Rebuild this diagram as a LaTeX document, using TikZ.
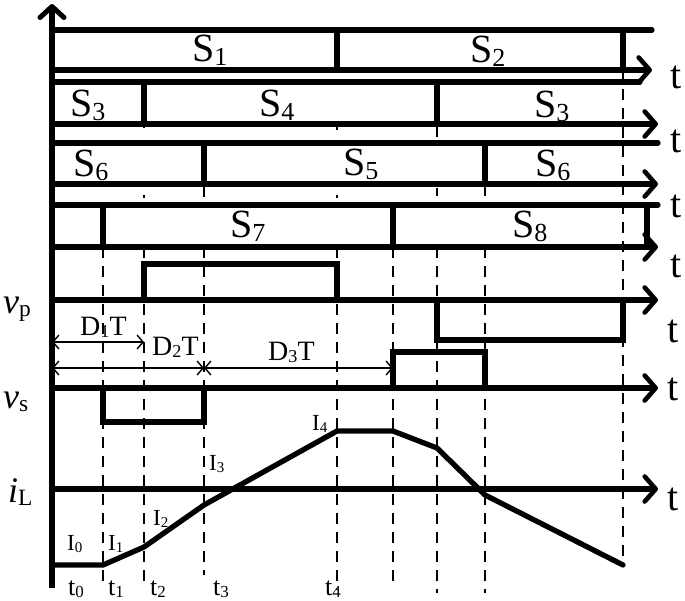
\documentclass[tikz,border=0pt]{standalone}
\usepackage{fontspec}
\setmainfont{Liberation Serif}
\usetikzlibrary{arrows.meta}
\newcommand{\lsub}[1]{\raisebox{-0.1em}{\scalebox{0.65}{#1}}}
\tikzset{
  bigtip/.tip={Straight Barb[length=11pt,width=25pt,line width=4.6pt,round]},
  smalltip/.tip={Straight Barb[length=6pt,width=14pt,line width=1.4pt]},
  sig/.style={line width=5.3pt,line cap=round},
  axisline/.style={line width=5.3pt,-bigtip},
  guide/.style={line width=1.9pt,dash pattern=on 11pt off 8pt},
  tickmark/.style={line width=1.9pt},
  dimline/.style={line width=1.5pt,smalltip-smalltip},
  slab/.style={inner sep=0pt,anchor=base west,font=\fontsize{40}{40}\selectfont},
  tlab/.style={inner sep=0pt,anchor=base west,font=\fontsize{40}{40}\selectfont},
  vlab/.style={inner sep=0pt,anchor=base west,font=\fontsize{36}{36}\selectfont},
  dlab/.style={inner sep=0pt,anchor=base west,font=\fontsize{28}{28}\selectfont},
  ilab/.style={inner sep=0pt,anchor=base west,font=\fontsize{23}{23}\selectfont},
  tilab/.style={inner sep=0pt,anchor=base west,font=\fontsize{26}{26}\selectfont},
}
\begin{document}
\begin{tikzpicture}[x=1pt,y=-1pt]
\useasboundingbox (0,0) rectangle (685,600);

% dashed guide lines
\draw[guide] (103,247) -- (103,588);
\draw[guide] (144,247) -- (144,588);
\draw[guide] (204,247) -- (204,575);
\draw[guide] (337,247) -- (337,590);
\draw[guide] (393,247) -- (393,588);
\draw[guide] (437,247) -- (437,593);
\draw[guide] (485,247) -- (485,593);
\draw[guide] (623,70) -- (623,557);
% short ticks between rows
\draw[tickmark] (144,124) -- (144,128);
\draw[tickmark] (337,124) -- (337,130);
\draw[tickmark] (437,124) -- (437,137);
\draw[tickmark] (144,195) -- (144,198);
\draw[tickmark] (204,184) -- (204,197);
\draw[tickmark] (337,195) -- (337,198);
\draw[tickmark] (437,188) -- (437,196);
\draw[tickmark] (485,184) -- (485,196);

% vertical axis
\draw[line width=6pt,-{Straight Barb[length=11pt,width=24pt,line width=5pt,round]}] (52,588) -- (52,4);

% row 1: S1 / S2
\draw[sig] (52,30) -- (652,30);
\draw[axisline] (52,70) -- (652,70);
\draw[sig] (337,30) -- (337,70);
\draw[sig] (623,30) -- (623,70);
\node[slab] (s1) at (192,61) {S\lsub{1}};
\node[slab] (s2) at (470,62) {S\lsub{2}};
\node[tlab] (ta) at (670,88) {t};

% row 2: S3 / S4 / S3
\draw[sig] (52,82) -- (640,82);
\draw[axisline] (52,124) -- (658,124);
\draw[sig] (144,82) -- (144,124);
\draw[sig] (437,82) -- (437,124);
\node[slab] (s3a) at (70,116) {S\lsub{3}};
\node[slab] (s4) at (259,116) {S\lsub{4}};
\node[slab] (s3b) at (534,117) {S\lsub{3}};
\node[tlab] (tb) at (670,152) {t};

% row 3: S6 / S5 / S6
\draw[sig] (52,143) -- (658,143);
\draw[axisline] (52,184) -- (658,184);
\draw[sig] (204,143) -- (204,184);
\draw[sig] (485,143) -- (485,184);
\node[slab] (s6a) at (73,176) {S\lsub{6}};
\node[slab] (s5) at (343,175) {S\lsub{5}};
\node[slab] (s6b) at (535,176) {S\lsub{6}};
\node[tlab] (tc) at (670,217) {t};

% row 4: S7 / S8
\draw[sig] (52,205) -- (658,205);
\draw[axisline] (52,247) -- (658,247);
\draw[sig] (103,205) -- (103,247);
\draw[sig] (393,205) -- (393,247);
\draw[sig] (647,205) -- (647,247);
\node[slab] (s7) at (230,237) {S\lsub{7}};
\node[slab] (s8) at (512,237) {S\lsub{8}};
\node[tlab] (td) at (670,277) {t};

% vp
\draw[axisline] (52,300) -- (658,300);
\draw[sig] (52,300) -- (144,300) -- (144,264) -- (337,264) -- (337,300)
  -- (437,300) -- (437,340) -- (623,340) -- (623,300);
\node[vlab] (vp) at (3,313) {\textit{v}\lsub{p}};
\node[tlab] (te) at (667,342) {t};

% dimension arrows
\draw[dimline] (52,342) -- (144,342);
\draw[dimline] (52,368) -- (204,368);
\draw[dimline] (204,368) -- (393,368);
\node[dlab] (d1) at (80,335) {D\lsub{1}T};
\node[dlab] (d2) at (152,355) {D\lsub{2}T};
\node[dlab] (d3) at (268,360) {D\lsub{3}T};

% vs
\draw[axisline] (52,388) -- (658,388);
\draw[sig] (103,388) -- (103,422) -- (204,422) -- (204,388);
\draw[sig] (393,388) -- (393,352) -- (485,352) -- (485,388);
\node[vlab] (vs) at (3,408) {\textit{v}\lsub{s}};
\node[tlab] (tf) at (667,400) {t};

% iL
\draw[axisline] (52,489) -- (658,489);
\draw[sig] (52,565) -- (103,565) -- (144,547) -- (204,505) -- (337,431)
  -- (393,431) -- (437,448) -- (485,495) -- (623,565);
\node[vlab] (il) at (8,502) {\textit{i}\lsub{L}};
\node[tlab] (tg) at (667,510) {t};

% current labels
\node[ilab] (i0) at (67,550) {I\lsub{0}};
\node[ilab] (i1) at (108,550) {I\lsub{1}};
\node[ilab] (i2) at (153,525) {I\lsub{2}};
\node[ilab] (i3) at (209,470) {I\lsub{3}};
\node[ilab] (i4) at (312,430) {I\lsub{4}};

% time labels
\node[tilab] (t0) at (68,595) {t\lsub{0}};
\node[tilab] (t1) at (108,595) {t\lsub{1}};
\node[tilab] (t2) at (150,595) {t\lsub{2}};
\node[tilab] (t3) at (213,595) {t\lsub{3}};
\node[tilab] (t4) at (325,595) {t\lsub{4}};
\end{tikzpicture}
\end{document}
